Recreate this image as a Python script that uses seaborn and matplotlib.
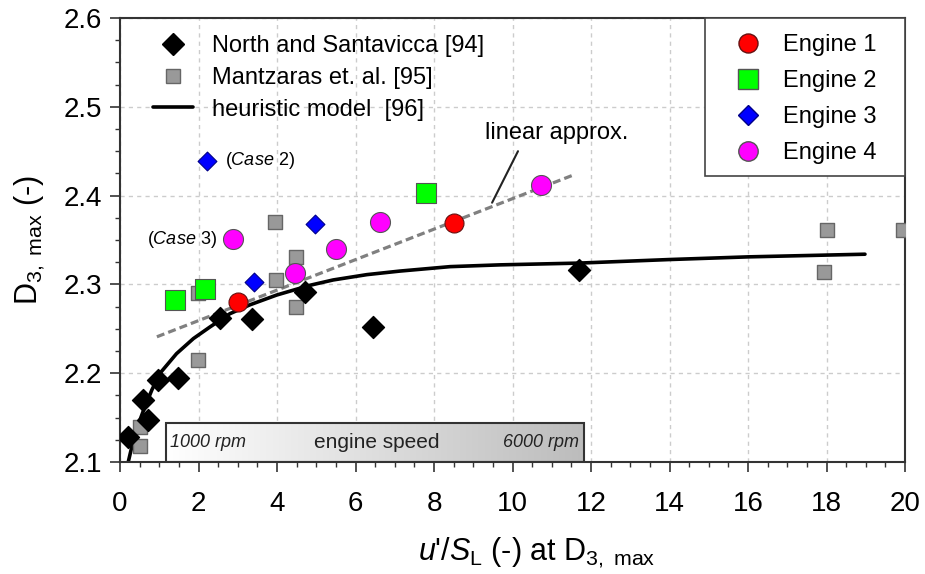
import numpy as np
import pandas as pd
import matplotlib
matplotlib.use("Agg")
import matplotlib.pyplot as plt
import seaborn as sns
from matplotlib.lines import Line2D
from matplotlib.patches import Rectangle
from matplotlib.colors import LinearSegmentedColormap

# ---------------- data ----------------
north_x = [0.20, 0.59, 0.71, 0.97, 1.48, 2.55, 3.37, 4.71, 6.45, 11.69]
north_y = [2.128, 2.170, 2.147, 2.192, 2.195, 2.262, 2.261, 2.291, 2.252, 2.316]

mantz_x = [0.51, 0.51, 1.99, 1.99, 3.97, 3.95, 4.48, 4.48, 18.01, 17.94, 19.95]
mantz_y = [2.139, 2.118, 2.290, 2.215, 2.305, 2.370, 2.331, 2.275, 2.361, 2.314, 2.361]

model_x = [0.21, 0.38, 0.59, 0.81, 1.02, 1.44, 1.87, 2.29, 2.80, 3.31, 3.99, 4.84,
           5.43, 6.29, 7.13, 8.41, 9.68, 11.7, 14.0, 16.0, 18.98]
model_y = [2.100, 2.132, 2.157, 2.181, 2.200, 2.222, 2.239, 2.252, 2.267, 2.277, 2.288, 2.299,
           2.305, 2.311, 2.315, 2.320, 2.322, 2.324, 2.328, 2.331, 2.334]

linear_x = [0.94, 11.54]
linear_y = [2.241, 2.423]

eng1_x = [3.00, 8.51]
eng1_y = [2.280, 2.369]
eng2_x = [1.40, 2.17, 7.80]
eng2_y = [2.282, 2.295, 2.403]
eng3_x = [2.22, 3.41, 4.97]
eng3_y = [2.439, 2.303, 2.368]
eng4_x = [2.88, 4.46, 5.50, 6.62, 10.73]
eng4_y = [2.351, 2.313, 2.340, 2.370, 2.412]

x_ticks = [0, 2, 4, 6, 8, 10, 12, 14, 16, 18, 20]
y_ticks = [2.1, 2.2, 2.3, 2.4, 2.5, 2.6]

legend1_labels = ["North and Santavicca [94]", "Mantzaras et. al. [95]", "heuristic model  [96]"]
legend2_labels = ["Engine 1", "Engine 2", "Engine 3", "Engine 4"]

# ---------------- style ----------------
sns.set_style("ticks")
plt.rcParams["font.family"] = ["Liberation Sans", "DejaVu Sans"]
plt.rcParams["mathtext.fontset"] = "custom"
plt.rcParams["mathtext.rm"] = "Liberation Sans"
plt.rcParams["mathtext.it"] = "Liberation Sans:italic"
plt.rcParams["mathtext.bf"] = "Liberation Sans:bold"
plt.rcParams["text.color"] = "black"
plt.rcParams["axes.labelcolor"] = "black"
plt.rcParams["xtick.labelcolor"] = "black"
plt.rcParams["ytick.labelcolor"] = "black"

fig = plt.figure(figsize=(9.25, 5.74), dpi=100)
ax = fig.add_axes([120 / 925, 1 - 462 / 574, (905 - 120) / 925, (462 - 18) / 574])

# grid
ax.set_axisbelow(True)
ax.grid(True, which="major", color="#cccccc", linestyle=(0, (3, 3)), linewidth=1.0)

# engine speed box with gradient
box_x0, box_x1, box_y0, box_y1 = 1.17, 11.82, 2.1, 2.144
cmap = LinearSegmentedColormap.from_list("g", ["#ffffff", "#bcbcbc"])
grad = np.linspace(0, 1, 256).reshape(1, -1)
ax.imshow(grad, extent=[box_x0, box_x1, box_y0, box_y1], cmap=cmap, aspect="auto",
          zorder=1.5, interpolation="bilinear")
ax.add_patch(Rectangle((box_x0, box_y0), box_x1 - box_x0, box_y1 - box_y0, fill=False,
                       edgecolor="#333333", linewidth=1.5, zorder=1.6))
ymid = (box_y0 + box_y1) / 2
ax.text(box_x0 + 0.1, ymid, "1000 rpm", fontsize=13, style="italic", ha="left", va="center",
        color="#222222", zorder=1.7)
ax.text(6.55, ymid, "engine speed", fontsize=15, ha="center", va="center", color="#222222", zorder=1.7)
ax.text(box_x1 - 0.12, ymid, "6000 rpm", fontsize=13, style="italic", ha="right", va="center",
        color="#222222", zorder=1.7)

# lines
sns.lineplot(x=linear_x, y=linear_y, ax=ax, color="#808080", linewidth=2.3,
             linestyle=(0, (2.5, 1.3)), sort=False, estimator=None, zorder=2)
sns.lineplot(x=model_x, y=model_y, ax=ax, color="black", linewidth=2.6,
             sort=False, estimator=None, zorder=2.5)

# scatter series
sns.scatterplot(x=mantz_x, y=mantz_y, ax=ax, marker="s", s=105, color="#999999",
                edgecolor="#666666", linewidth=1.0, zorder=3)
sns.scatterplot(x=north_x, y=north_y, ax=ax, marker="D", s=125, color="black",
                edgecolor="black", linewidth=1.0, zorder=4)
sns.scatterplot(x=eng1_x, y=eng1_y, ax=ax, marker="o", s=187, color="#ff0000",
                edgecolor="#661111", linewidth=0.8, zorder=5)
sns.scatterplot(x=eng2_x, y=eng2_y, ax=ax, marker="s", s=207, color="#00ff00",
                edgecolor="#555555", linewidth=0.8, zorder=5)
sns.scatterplot(x=eng3_x, y=eng3_y, ax=ax, marker="D", s=92, color="#0000ff",
                edgecolor="#000088", linewidth=0.8, zorder=5)
sns.scatterplot(x=eng4_x, y=eng4_y, ax=ax, marker="o", s=207, color="#ff00ff",
                edgecolor="#555555", linewidth=0.8, zorder=5)

# annotations
ax.text(2.68, 2.439, r"($\mathit{Case\ 2}$)", fontsize=13, ha="left", va="center")
ax.text(2.47, 2.351, r"($\mathit{Case\ 3}$)", fontsize=13, ha="right", va="center")
ax.text(11.13, 2.470, "linear approx.", fontsize=17, ha="center", va="center")
ax.plot([10.14, 9.48], [2.450, 2.392], color="#222222", linewidth=1.5, zorder=2.2)

# axes
ax.set_xlim(0, 20)
ax.set_ylim(2.1, 2.6)
ax.set_xticks(x_ticks)
ax.set_yticks(y_ticks)
ax.set_yticklabels([f"{v:.1f}" for v in y_ticks])
ax.set_xticks(np.arange(0, 20.01, 0.5), minor=True)
ax.set_yticks(np.arange(2.1, 2.601, 0.025), minor=True)
ax.tick_params(which="major", direction="out", length=7.2, width=1.2, labelsize=20,
               color="#333333", labelcolor="black")
ax.tick_params(axis="x", which="major", pad=13.5)
ax.tick_params(axis="y", which="major", pad=5.5)
ax.tick_params(which="minor", direction="out", length=3.8, width=1.0, color="#333333")
for sp in ax.spines.values():
    sp.set_visible(True)
    sp.set_color("#333333")
    sp.set_linewidth(1.5)

ax.set_xlabel(r"$\mathit{u}$'/$\mathit{S}_\mathregular{L}$ (-) at D$_\mathregular{3,\ max}$",
              fontsize=22, labelpad=14, color="black")
ax.xaxis.label.set_x(0.531)
ax.set_ylabel(r"D$_\mathregular{3,\ max}$ (-)", fontsize=22, labelpad=12, color="black")

# legends
h1 = [Line2D([], [], marker="D", linestyle="none", markersize=11, color="black"),
      Line2D([], [], marker="s", linestyle="none", markersize=10.2, markerfacecolor="#999999",
             markeredgecolor="#666666"),
      Line2D([], [], color="black", linewidth=2.6)]
l1 = ax.legend(h1, legend1_labels, loc="upper left", bbox_to_anchor=(0.042, 0.962),
               frameon=False, fontsize=17, borderpad=0, borderaxespad=0,
               handlelength=1.7, handletextpad=0.8, labelspacing=0.42, labelcolor="black")
ax.add_artist(l1)

# frame for engine legend
ax.add_patch(Rectangle((585 / 785, 286 / 444), 200 / 785, 158 / 444, transform=ax.transAxes,
                       facecolor="white", edgecolor="#444444", linewidth=1.2, zorder=6,
                       clip_on=False))
h2 = [Line2D([], [], marker="o", linestyle="none", markersize=13.7, markerfacecolor="#ff0000",
             markeredgecolor="#661111"),
      Line2D([], [], marker="s", linestyle="none", markersize=14, markerfacecolor="#00ff00",
             markeredgecolor="#555555"),
      Line2D([], [], marker="D", linestyle="none", markersize=9.7, markerfacecolor="#0000ff",
             markeredgecolor="#000088"),
      Line2D([], [], marker="o", linestyle="none", markersize=14, markerfacecolor="#ff00ff",
             markeredgecolor="#555555")]
l2 = ax.legend(h2, legend2_labels, loc="upper left", bbox_to_anchor=(0.779, 0.964),
               borderpad=0, borderaxespad=0, fontsize=17, frameon=False,
               handlelength=1.4, handletextpad=0.78, labelspacing=0.59, labelcolor="black")
l2.set_zorder(7)

fig.savefig("out.png", dpi=100)
